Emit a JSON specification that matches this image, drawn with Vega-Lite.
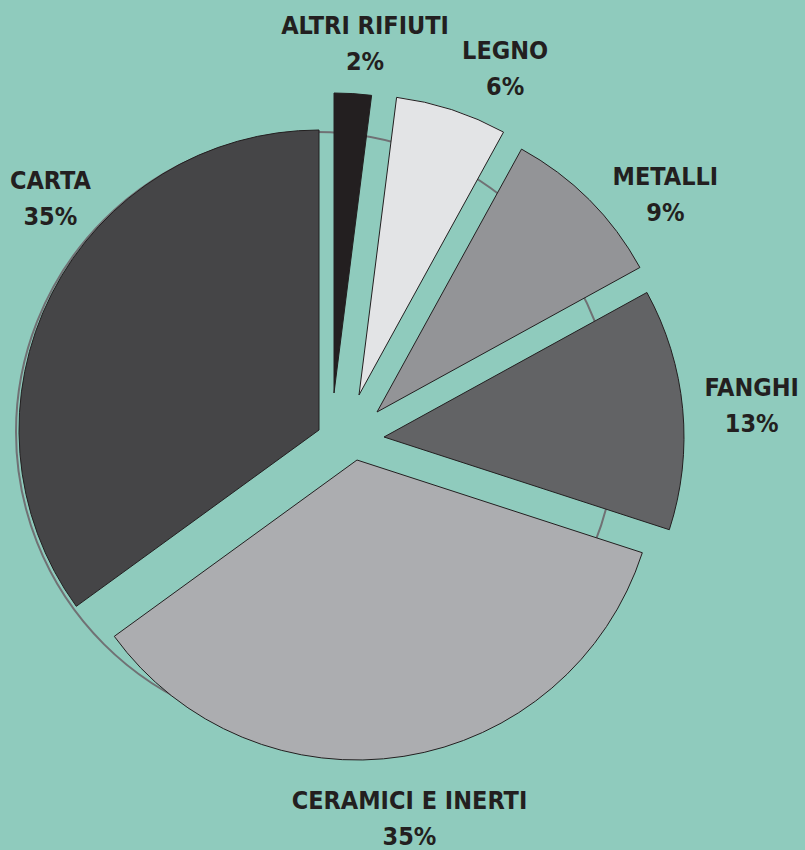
{
  "$schema": "https://vega.github.io/schema/vega-lite/v6.json",
  "width": 636,
  "height": 838,
  "padding": {"left": 0, "top": 12, "right": 169, "bottom": 0},
  "autosize": {"type": "none"},
  "background": "#8fcbbd",
  "config": {
    "view": {"stroke": null},
    "text": {"font": "DejaVu Sans Condensed, DejaVu Sans, sans-serif", "fontWeight": "bold", "fontSize": 25, "lineBreak": "\n", "lineHeight": 36, "dy": -18, "align": "center", "baseline": "middle", "fill": "#231f20"}
  },
  "data": {
    "values": [
      {"cat": "ALTRI RIFIUTI", "value": 2, "label": "ALTRI RIFIUTI\n2%"},
      {"cat": "LEGNO", "value": 6, "label": "LEGNO\n6%"},
      {"cat": "METALLI", "value": 9, "label": "METALLI\n9%"},
      {"cat": "FANGHI", "value": 13, "label": "FANGHI\n13%"},
      {"cat": "CERAMICI E INERTI", "value": 35, "label": "CERAMICI E INERTI\n35%"},
      {"cat": "CARTA", "value": 35, "label": "CARTA\n35%"}
    ]
  },
  "transform": [{"stack": "value", "groupby": [], "as": ["start", "end"]}],
  "layer": [
    {
      "transform": [{"aggregate": [{"op": "sum", "field": "value", "as": "total"}]}],
      "mark": {"type": "arc", "radius": 300, "xOffset": -2, "yOffset": 1, "fill": "transparent", "stroke": "#707174", "strokeWidth": 2},
      "encoding": {"theta": {"field": "total", "type": "quantitative", "scale": {"domain": [0, 100]}}}
    },
    {
      "transform": [{"filter": "datum.cat === 'CARTA'"}],
      "mark": {"type": "arc", "radius": 300, "xOffset": 1, "yOffset": -1, "stroke": "#231f20", "strokeWidth": 1},
      "encoding": {
        "theta": {"field": "start", "type": "quantitative", "scale": {"domain": [0, 100]}},
        "theta2": {"field": "end"},
        "fill": {"field": "cat", "type": "nominal", "legend": null, "scale": {"domain": ["ALTRI RIFIUTI", "LEGNO", "METALLI", "FANGHI", "CERAMICI E INERTI", "CARTA"], "range": ["#231f20", "#e3e4e6", "#939497", "#626365", "#acadb0", "#454547"]}}
      }
    },
    {
      "transform": [{"filter": "datum.cat === 'ALTRI RIFIUTI'"}],
      "mark": {"type": "arc", "radius": 300, "xOffset": 16, "yOffset": -38, "stroke": "#231f20", "strokeWidth": 1},
      "encoding": {
        "theta": {"field": "start", "type": "quantitative", "scale": {"domain": [0, 100]}},
        "theta2": {"field": "end"},
        "fill": {"field": "cat", "type": "nominal", "legend": null}
      }
    },
    {
      "transform": [{"filter": "datum.cat === 'LEGNO'"}],
      "mark": {"type": "arc", "radius": 300, "xOffset": 41, "yOffset": -36, "stroke": "#231f20", "strokeWidth": 1},
      "encoding": {
        "theta": {"field": "start", "type": "quantitative", "scale": {"domain": [0, 100]}},
        "theta2": {"field": "end"},
        "fill": {"field": "cat", "type": "nominal", "legend": null}
      }
    },
    {
      "transform": [{"filter": "datum.cat === 'METALLI'"}],
      "mark": {"type": "arc", "radius": 300, "xOffset": 59, "yOffset": -19, "stroke": "#231f20", "strokeWidth": 1},
      "encoding": {
        "theta": {"field": "start", "type": "quantitative", "scale": {"domain": [0, 100]}},
        "theta2": {"field": "end"},
        "fill": {"field": "cat", "type": "nominal", "legend": null}
      }
    },
    {
      "transform": [{"filter": "datum.cat === 'FANGHI'"}],
      "mark": {"type": "arc", "radius": 300, "xOffset": 66, "yOffset": 6, "stroke": "#231f20", "strokeWidth": 1},
      "encoding": {
        "theta": {"field": "start", "type": "quantitative", "scale": {"domain": [0, 100]}},
        "theta2": {"field": "end"},
        "fill": {"field": "cat", "type": "nominal", "legend": null}
      }
    },
    {
      "transform": [{"filter": "datum.cat === 'CERAMICI E INERTI'"}],
      "mark": {"type": "arc", "radius": 300, "xOffset": 39, "yOffset": 29, "stroke": "#231f20", "strokeWidth": 1},
      "encoding": {
        "theta": {"field": "start", "type": "quantitative", "scale": {"domain": [0, 100]}},
        "theta2": {"field": "end"},
        "fill": {"field": "cat", "type": "nominal", "legend": null}
      }
    },
    {
      "transform": [{"filter": "datum.cat === 'CARTA'"}, {"fold": ["start", "end"], "as": ["k", "v"]}, {"aggregate": [{"op": "mean", "field": "v", "as": "mid"}], "groupby": ["cat", "label"]}],
      "mark": {"type": "text", "radius": 354, "thetaOffset": 0.238, "xOffset": 1, "yOffset": -1},
      "encoding": {"theta": {"field": "mid", "type": "quantitative", "stack": null, "scale": {"domain": [0, 100]}}, "text": {"field": "label"}}
    },
    {
      "transform": [{"filter": "datum.cat === 'ALTRI RIFIUTI'"}, {"fold": ["start", "end"], "as": ["k", "v"]}, {"aggregate": [{"op": "mean", "field": "v", "as": "mid"}], "groupby": ["cat", "label"]}],
      "mark": {"type": "text", "radius": 350, "thetaOffset": 0.026, "xOffset": 16, "yOffset": -38},
      "encoding": {"theta": {"field": "mid", "type": "quantitative", "stack": null, "scale": {"domain": [0, 100]}}, "text": {"field": "label"}}
    },
    {
      "transform": [{"filter": "datum.cat === 'LEGNO'"}, {"fold": ["start", "end"], "as": ["k", "v"]}, {"aggregate": [{"op": "mean", "field": "v", "as": "mid"}], "groupby": ["cat", "label"]}],
      "mark": {"type": "text", "radius": 357, "thetaOffset": 0.1075, "xOffset": 41, "yOffset": -36},
      "encoding": {"theta": {"field": "mid", "type": "quantitative", "stack": null, "scale": {"domain": [0, 100]}}, "text": {"field": "label"}}
    },
    {
      "transform": [{"filter": "datum.cat === 'METALLI'"}, {"fold": ["start", "end"], "as": ["k", "v"]}, {"aggregate": [{"op": "mean", "field": "v", "as": "mid"}], "groupby": ["cat", "label"]}],
      "mark": {"type": "text", "radius": 361, "thetaOffset": 0.14, "xOffset": 59, "yOffset": -19},
      "encoding": {"theta": {"field": "mid", "type": "quantitative", "stack": null, "scale": {"domain": [0, 100]}}, "text": {"field": "label"}}
    },
    {
      "transform": [{"filter": "datum.cat === 'FANGHI'"}, {"fold": ["start", "end"], "as": ["k", "v"]}, {"aggregate": [{"op": "mean", "field": "v", "as": "mid"}], "groupby": ["cat", "label"]}],
      "mark": {"type": "text", "radius": 369, "thetaOffset": 0.009, "xOffset": 66, "yOffset": 6},
      "encoding": {"theta": {"field": "mid", "type": "quantitative", "stack": null, "scale": {"domain": [0, 100]}}, "text": {"field": "label"}}
    },
    {
      "transform": [{"filter": "datum.cat === 'CERAMICI E INERTI'"}, {"fold": ["start", "end"], "as": ["k", "v"]}, {"aggregate": [{"op": "mean", "field": "v", "as": "mid"}], "groupby": ["cat", "label"]}],
      "mark": {"type": "text", "radius": 363, "thetaOffset": 0.012, "xOffset": 39, "yOffset": 29},
      "encoding": {"theta": {"field": "mid", "type": "quantitative", "stack": null, "scale": {"domain": [0, 100]}}, "text": {"field": "label"}}
    }
  ]
}
